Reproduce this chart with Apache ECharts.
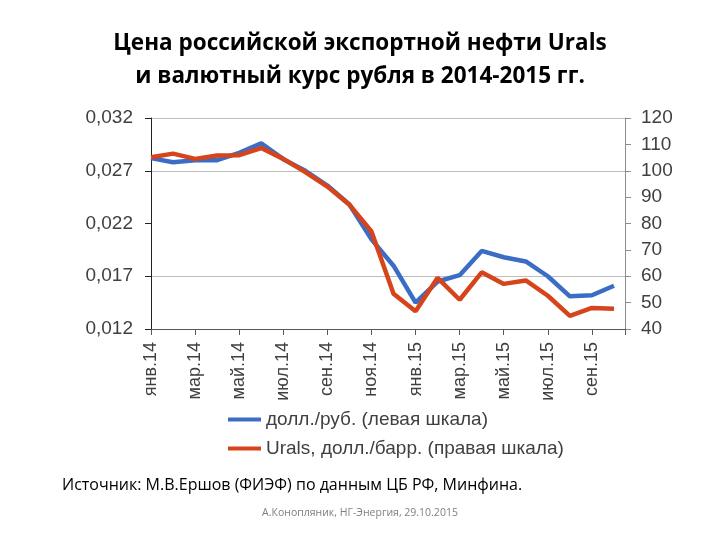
<!DOCTYPE html>
<html><head><meta charset="utf-8">
<script src="https://cdn.jsdelivr.net/npm/echarts@6/dist/echarts.min.js"></script>
<style>html,body{margin:0;padding:0;background:#fff}#c{width:720px;height:540px}</style>
</head><body><div id="c"></div>
<script>
const months = ['янв.14','фев.14','мар.14','апр.14','май.14','июн.14','июл.14','авг.14','сен.14','окт.14','ноя.14','дек.14','янв.15','фев.15','мар.15','апр.15','май.15','июн.15','июл.15','авг.15','сен.15','окт.15'];
const usdRub = [0.0282,0.0278,0.0280,0.0280,0.0287,0.0296,0.0281,0.0270,0.0256,0.0238,0.0205,0.0180,0.0145,0.0165,0.0171,0.0194,0.0188,0.0184,0.0170,0.0151,0.0152,0.0161];
const urals = [105.1,106.5,104.5,105.8,105.9,108.6,104.5,99.5,94.0,87.1,77.0,53.4,46.7,59.4,51.1,61.5,57.1,58.4,52.6,45.0,48.0,47.7];
const leftTicks = {min:0.012, max:0.032, step:0.005};
const rightTicks = {min:40, max:120, step:10};
const seriesNames = ['долл./руб. (левая шкала)','Urals, долл./барр. (правая шкала)'];
const titleText = 'Цена российской экспортной нефти Urals\nи валютный курс рубля в 2014-2015 гг.';
const sourceText = 'Источник: М.В.Ершов (ФИЭФ) по данным ЦБ РФ, Минфина.';
const footerText = 'А.Конопляник, НГ-Энергия, 29.10.2015';

const chart = echarts.init(document.getElementById('c'));
const axisFont = 'Liberation Sans, Arial, sans-serif';
chart.setOption({
  animation:false,
  backgroundColor:'#fff',
  title:{text:titleText,left:'center',top:22,
    textStyle:{fontFamily:'Open Sans',fontWeight:'bold',fontSize:22.5,lineHeight:33,color:'#000'}},
  grid:{left:151,right:95,top:118,bottom:211,containLabel:false},
  legend:{orient:'vertical',left:228,top:410,itemGap:10,padding:0,icon:'rect',itemWidth:33,itemHeight:4,
    textStyle:{fontFamily:axisFont,fontSize:19,color:'#404040'},
    data:seriesNames},
  xAxis:{type:'value',min:0,max:21.5,interval:2,
    axisLine:{onZero:false,lineStyle:{color:'#595959',width:1}},
    axisTick:{show:true,length:6,lineStyle:{color:'#595959'}},
    splitLine:{show:false},
    axisLabel:{rotate:90,margin:13,fontFamily:axisFont,fontSize:18,color:'#404040',
      formatter:v=>Number.isInteger(v)&&months[v]?months[v]:''}},
  yAxis:[
    {type:'value',position:'left',min:leftTicks.min,max:leftTicks.max,interval:leftTicks.step,
     axisLine:{show:true,lineStyle:{color:'#222',width:1}},
     axisTick:{show:true,length:6,lineStyle:{color:'#222'}},
     axisLabel:{margin:18,fontFamily:axisFont,fontSize:19,color:'#404040',
       formatter:v=>v.toFixed(3).replace('.',',')},
     splitLine:{show:true,lineStyle:{color:['#bdbdbd','#bdbdbd','rgba(0,0,0,0)','#bdbdbd','#bdbdbd'],width:1}}},
    {type:'value',position:'right',min:rightTicks.min,max:rightTicks.max,interval:rightTicks.step,
     axisLine:{show:true,lineStyle:{color:'#8c8c8c',width:1}},
     axisTick:{show:true,length:6,lineStyle:{color:'#8c8c8c'}},
     axisLabel:{margin:16,fontFamily:axisFont,fontSize:19,color:'#404040'},
     splitLine:{show:false}}
  ],
  series:[
    {name:seriesNames[0],type:'line',yAxisIndex:0,showSymbol:false,symbol:'none',
     color:'#3C6DC5',lineStyle:{width:4.5,color:'#3C6DC5'},
     data:usdRub.map((v,i)=>[i,v])},
    {name:seriesNames[1],type:'line',yAxisIndex:1,showSymbol:false,symbol:'none',
     color:'#D6441C',lineStyle:{width:4.5,color:'#D6441C'},
     data:urals.map((v,i)=>[i,v])}
  ],
  graphic:[
    {type:'text',left:62,top:477,style:{text:sourceText,font:'16px "Open Sans"',fill:'#000'}},
    {type:'text',left:'center',top:508,style:{text:footerText,font:'10.5px "Open Sans"',fill:'#808080'}}
  ]
});
</script></body></html>
